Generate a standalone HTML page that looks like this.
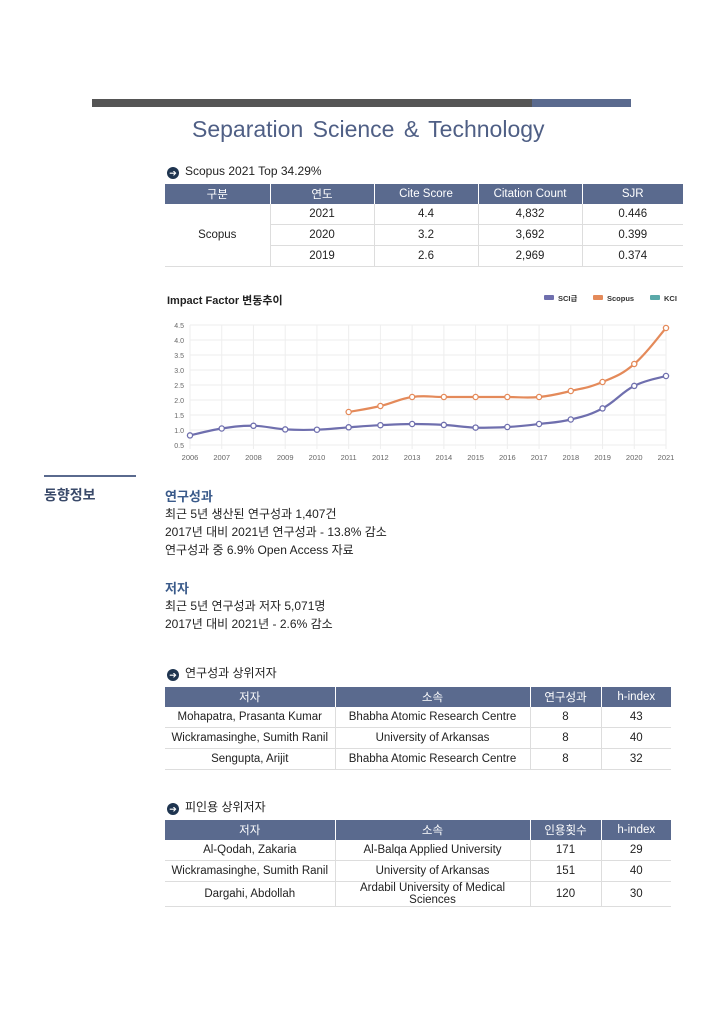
<!DOCTYPE html>
<html><head><meta charset="utf-8"><style>
body{margin:0;width:724px;height:1024px;background:#fff;position:relative;font-family:"Liberation Sans","Noto Sans CJK KR",sans-serif;color:#222;overflow:hidden}
.abs{position:absolute}
table{border-collapse:collapse;position:absolute;font-size:11.5px;table-layout:fixed}
th{background:#5a6a8e;color:#fff;font-weight:normal;height:20px;padding:0;border-right:1px solid #fff}
td{text-align:center;height:20px;padding:0;border-bottom:1px solid #ddd;border-right:1px solid #ddd}
td:last-child,th:last-child{border-right:none}
.sec{font-size:12px;}
.arrow{display:inline-block;width:12px;height:12px;border-radius:6px;background:#1f3550;color:#fff;font-size:9px;line-height:12px;text-align:center;margin-right:6px;vertical-align:-1px}
</style></head><body>
<div class="abs" style="left:92px;top:99px;width:440px;height:8px;background:#555"></div>
<div class="abs" style="left:532px;top:99px;width:99px;height:8px;background:#5a6a8e"></div>
<div class="abs" style="left:192px;top:116px;font-size:23px;color:#4f5f85;word-spacing:3px">Separation Science &amp; Technology</div>
<div class="abs sec" style="left:167px;top:164px"><span class="arrow">➔</span>Scopus 2021 Top 34.29%</div>
<table style="left:165px;top:184px;width:518px">
<colgroup><col style="width:105px"><col style="width:104px"><col style="width:104px"><col style="width:104px"><col style="width:101px"></colgroup>
<tr><th>구분</th><th>연도</th><th>Cite Score</th><th>Citation Count</th><th>SJR</th></tr>
<tr><td rowspan="3">Scopus</td><td>2021</td><td>4.4</td><td>4,832</td><td>0.446</td></tr>
<tr><td>2020</td><td>3.2</td><td>3,692</td><td>0.399</td></tr>
<tr><td>2019</td><td>2.6</td><td>2,969</td><td>0.374</td></tr>
</table>
<div class="abs" style="left:167px;top:292px;font-size:11px;font-weight:bold">Impact Factor 변동추이</div>
<svg class="abs" style="left:0;top:0" width="724" height="480" id="chart"></svg>
<div class="abs" style="left:44px;top:475px;width:92px;height:2px;background:#5a6a8e"></div>
<div class="abs" style="left:44px;top:485px;font-size:14px;font-weight:bold;color:#3a4a6a">동향정보</div>
<div class="abs" style="left:165px;top:486px;font-size:13px;font-weight:bold;color:#3a5a8a">연구성과</div>
<div class="abs" style="left:165px;top:505px;font-size:12px;line-height:18px">최근 5년 생산된 연구성과 1,407건<br>2017년 대비 2021년 연구성과 - 13.8% 감소<br>연구성과 중 6.9% Open Access 자료</div>
<div class="abs" style="left:165px;top:578px;font-size:13px;font-weight:bold;color:#3a5a8a">저자</div>
<div class="abs" style="left:165px;top:597px;font-size:12px;line-height:18px">최근 5년 연구성과 저자 5,071명<br>2017년 대비 2021년 - 2.6% 감소</div>
<div class="abs sec" style="left:167px;top:664px"><span class="arrow">➔</span>연구성과 상위저자</div>
<table style="left:165px;top:687px;width:506px">
<colgroup><col style="width:170px"><col style="width:195px"><col style="width:71px"><col style="width:70px"></colgroup>
<tr><th>저자</th><th>소속</th><th>연구성과</th><th>h-index</th></tr>
<tr><td>Mohapatra, Prasanta Kumar</td><td>Bhabha Atomic Research Centre</td><td>8</td><td>43</td></tr>
<tr><td>Wickramasinghe, Sumith Ranil</td><td>University of Arkansas</td><td>8</td><td>40</td></tr>
<tr><td>Sengupta, Arijit</td><td>Bhabha Atomic Research Centre</td><td>8</td><td>32</td></tr>
</table>
<div class="abs sec" style="left:167px;top:798px"><span class="arrow">➔</span>피인용 상위저자</div>
<table style="left:165px;top:820px;width:506px">
<colgroup><col style="width:170px"><col style="width:195px"><col style="width:71px"><col style="width:70px"></colgroup>
<tr><th>저자</th><th>소속</th><th>인용횟수</th><th>h-index</th></tr>
<tr><td>Al-Qodah, Zakaria</td><td>Al-Balqa Applied University</td><td>171</td><td>29</td></tr>
<tr><td>Wickramasinghe, Sumith Ranil</td><td>University of Arkansas</td><td>151</td><td>40</td></tr>
<tr><td>Dargahi, Abdollah</td><td>Ardabil University of Medical Sciences</td><td>120</td><td>30</td></tr>
</table>
<script>
const years=[2006,2007,2008,2009,2010,2011,2012,2013,2014,2015,2016,2017,2018,2019,2020,2021];
const sciValues=[0.82,1.05,1.14,1.02,1.01,1.09,1.16,1.2,1.17,1.08,1.1,1.2,1.35,1.72,2.47,2.8];
const scopusYears=[2011,2012,2013,2014,2015,2016,2017,2018,2019,2020,2021];
const scopusValues=[1.6,1.8,2.1,2.1,2.1,2.1,2.1,2.3,2.6,3.2,4.4];
const yTicks=[0.5,1.0,1.5,2.0,2.5,3.0,3.5,4.0,4.5];
const legendLabels=["SCI급","Scopus","KCI"];
const legendColors=["#6f6fae","#e48a5a","#5aa9a9"];
const svg=document.getElementById('chart');const NS="http://www.w3.org/2000/svg";
const x=y=>190+(y-2006)*(476/15);
const yS=v=>445-(v-0.5)*30;
function mk(t,a,p){const e=document.createElementNS(NS,t);for(const k in a)e.setAttribute(k,a[k]);(p||svg).appendChild(e);return e;}
yTicks.forEach(v=>{
const l=mk('line',{x1:190,x2:666,y1:yS(v),y2:yS(v),stroke:'#eee'});


const t=mk('text',{x:184,y:yS(v)+3,'font-size':7,'text-anchor':'end',fill:'#666'});t.textContent=v.toFixed(1);


});
years.forEach(yr=>{
const l=mk('line',{x1:x(yr),x2:x(yr),y1:yS(4.5),y2:yS(0.5)+4,stroke:'#eee'});


const t=mk('text',{x:x(yr),y:460,'font-size':7.5,'text-anchor':'middle',fill:'#666'});t.textContent=yr;


});
function path(pts){let d=`M${pts[0][0]},${pts[0][1]}`;for(let i=0;i<pts.length-1;i++){const p0=pts[i-1]||pts[i],p1=pts[i],p2=pts[i+1],p3=pts[i+2]||p2;const t=0.2;d+=` C${p1[0]+(p2[0]-p0[0])*t},${p1[1]+(p2[1]-p0[1])*t} ${p2[0]-(p3[0]-p1[0])*t},${p2[1]-(p3[1]-p1[1])*t} ${p2[0]},${p2[1]}`;}return d;}
function series(xs,vs,c,name){const pts=xs.map((yr,i)=>[x(yr),yS(vs[i])]);
const p=mk('path',{d:path(pts),fill:'none',stroke:c,'stroke-width':2.2});


pts.forEach(q=>{const c2=mk('circle',{cx:q[0],cy:q[1],r:2.6,fill:'#fff',stroke:c,'stroke-width':1.3});

});}
series(years,sciValues,legendColors[0],'sci');
series(scopusYears,scopusValues,legendColors[1],'scopus');
const lx=[544,593,650];
legendLabels.forEach((lb,i)=>{
const r=mk('rect',{x:lx[i],y:295,width:10,height:5,rx:1,fill:legendColors[i]});


const t=mk('text',{x:lx[i]+14,y:301,'font-size':7.5,fill:'#333','font-weight':'bold'});t.textContent=lb;


});
</script>
</body></html>
